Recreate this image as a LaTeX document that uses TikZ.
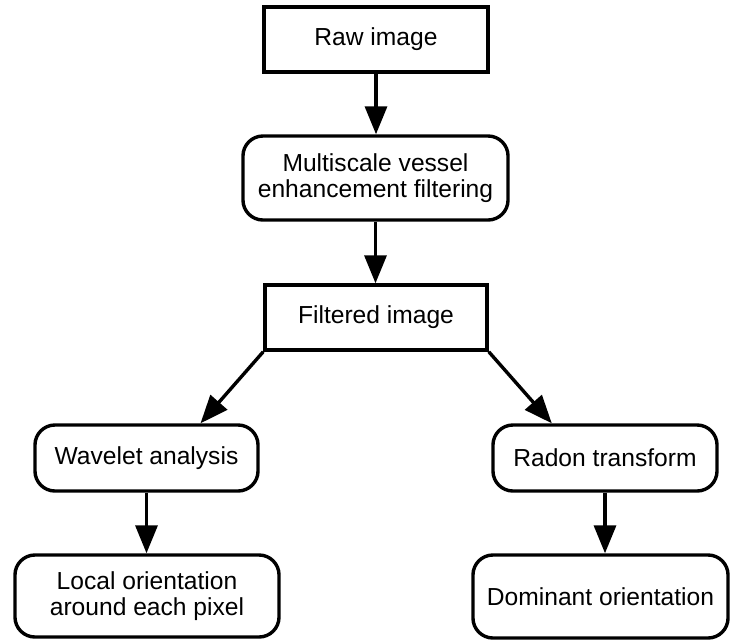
\documentclass[tikz,border=0pt]{standalone}
\usepackage{fontspec}
\setmainfont{Liberation Sans}
\usetikzlibrary{arrows.meta}
\tikzset{
  plainbox/.style={draw, line width=0.085cm, align=center, inner sep=0pt,
    font=\fontsize{17.5}{19}\selectfont},
  roundbox/.style={plainbox, rounded corners=0.5cm},
  flowarrow/.style={line width=0.085cm, -{Triangle[length=0.7cm,width=0.55cm]}}
}
\begin{document}
\begin{tikzpicture}[x=0.025cm, y=-0.025cm]
                    \useasboundingbox (0,0) rectangle (730,640);%

                    % Box raw image
                    \node [plainbox, minimum width=5.6cm, minimum height=1.625cm] (raw) at (376,39.5) {Raw image};%

                    % Box multiscale filtering
                    \node [roundbox, minimum width=6.625cm, minimum height=2.1cm] (multi) at (375.5,178) {Multiscale vessel\\enhancement filtering};%

                    % Box filtered image
                    \node [plainbox, minimum width=5.55cm, minimum height=1.625cm] (filtered) at (376,317.5) {Filtered image};%

                    % Box wavelet analysis
                    \node [roundbox, minimum width=5.575cm, minimum height=1.65cm] (wavelet) at (146.5,458) {Wavelet analysis};%

                    % Box radon transform
                    \node [roundbox, minimum width=5.6cm, minimum height=1.65cm] (radon) at (605,458) {Radon transform};%

                    % Box local orientation
                    \node [roundbox, minimum width=6.6cm, minimum height=2.05cm] (local) at (147,596) {Local orientation\\around each pixel};%

                    % Box dominant orientation
                    \node [roundbox, minimum width=6.375cm, minimum height=2.075cm] (dominant) at (600.5,596.5) {Dominant orientation};%

                    % Drawing arrow raw multi
                    \draw [flowarrow] (raw.south) -- (raw.south |- multi.north);%

                    % Drawing arrow multi filtered
                    \draw [flowarrow] (multi.south) -- (multi.south |- filtered.north);%

                    % Drawing arrow filtered wavelet
                    \draw [flowarrow] (filtered.south west) -- ([xshift=1.35cm]wavelet.north);%

                    % Drawing arrow filtered radon
                    \draw [flowarrow] (filtered.south east) -- ([xshift=-1.33cm]radon.north);%

                    % Drawing arrow wavelet local
                    \draw [flowarrow] (wavelet.south) -- (wavelet.south |- local.north);%

                    % Drawing arrow radon dominant
                    \draw [flowarrow] (radon.south) -- (radon.south |- dominant.north);%
\end{tikzpicture}
\end{document}
